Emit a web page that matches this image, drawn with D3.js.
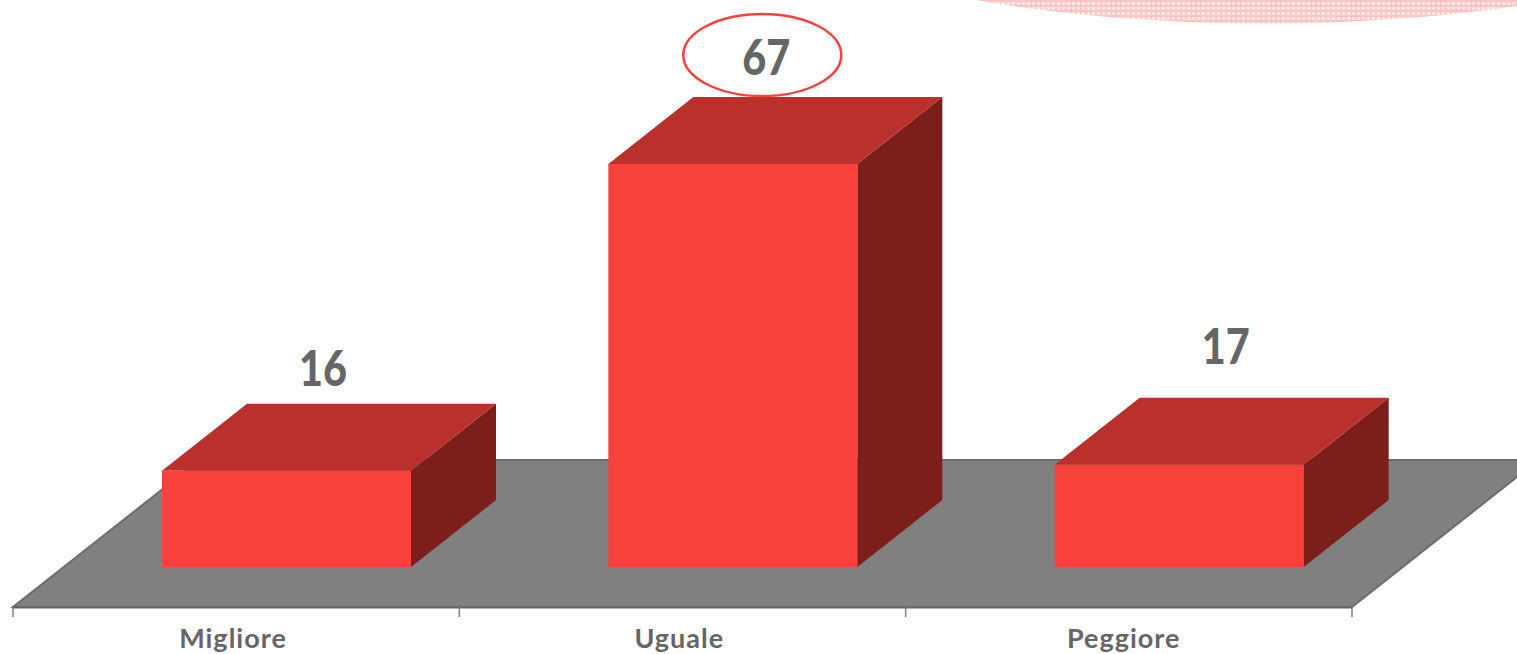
<!DOCTYPE html>
<html><head><meta charset="utf-8">
<script src="https://cdn.jsdelivr.net/npm/d3@7"></script>
<style>html,body{margin:0;padding:0;background:#fff;overflow:hidden}svg{display:block}</style>
</head><body><svg id="c" width="1517" height="654"></svg>
<script>
const categories = ["Migliore","Uguale","Peggiore"];
const values = [16,67,17];
const highlighted = ["Uguale"];

const svg = d3.select("#c");
const font = "Lato, 'Open Sans', sans-serif";
const x = d3.scaleBand().domain(categories).range([13,1352]);
const y = d3.scaleLinear().domain([0,67]).range([567,164]);
const depthX = 85, depthY = 67;
const floorFront = 607, floorBack = 460;
const floorDX = (floorFront-floorBack)*depthX/depthY;
const barOff = 149, barW = 249;
// hand-placed value label nudges relative to each bar's front-top-left corner
const labelNudge = {Migliore:[161,-85], Uguale:[158,-89], Peggiore:[171,-101]};
const catNudge = {Migliore:220, Uguale:220, Peggiore:218};

// decorative pink blob
const defs = svg.append("defs");
const pat = defs.append("pattern").attr("id","dots").attr("patternUnits","userSpaceOnUse").attr("width",5).attr("height",5);
pat.append("rect").attr("width",5).attr("height",5).attr("fill","#ffe6e6");
pat.append("rect").attr("width",2).attr("height",5).attr("fill","#ffcaca");
pat.append("rect").attr("width",5).attr("height",2).attr("fill","#ffc2c2");
pat.append("rect").attr("x",3).attr("y",3).attr("width",1).attr("height",1).attr("fill","#fff6f6");
svg.append("ellipse").attr("cx",1265).attr("cy",-116.5).attr("rx",520).attr("ry",140).attr("fill","url(#dots)");

// floor
svg.append("path").attr("fill","#808080").attr("stroke","#6c6c6c").attr("stroke-width",2)
  .attr("d",d3.line()([[13,floorFront],[1352,floorFront],[1352+floorDX,floorBack],[13+floorDX,floorBack]])+"Z");
svg.append("line").attr("x1",13).attr("x2",1352).attr("y1",floorFront+.5).attr("y2",floorFront+.5).attr("stroke","#666").attr("stroke-width",2);

// ticks
const ticks = categories.map(c=>x(c)).concat([x.range()[1]]);
svg.selectAll("line.t").data(ticks).join("line").attr("class","t")
  .attr("x1",d=>d).attr("x2",d=>d).attr("y1",floorFront).attr("y2",617)
  .attr("stroke","#7f7f7f").attr("stroke-width",1.5);

// bars
const g = svg.selectAll("g.b").data(categories.map((c,i)=>({c,v:values[i]}))).join("g").attr("class","b");
const L = d=>x(d.c)+barOff, R = d=>L(d)+barW, T = d=>y(d.v), B = y(0);
g.append("path").attr("fill","#7c1f1b").attr("d",d=>d3.line()([[R(d),T(d)],[R(d)+depthX,T(d)-depthY],[R(d)+depthX,B-depthY],[R(d),B]])+"Z");
g.append("path").attr("fill","#b9302d").attr("d",d=>d3.line()([[L(d),T(d)],[L(d)+depthX,T(d)-depthY],[R(d)+depthX,T(d)-depthY],[R(d),T(d)]])+"Z");
g.append("rect").attr("fill","#f8413b").attr("x",L).attr("y",T).attr("width",barW).attr("height",d=>B-T(d));

// highlight ellipse + values
g.filter(d=>highlighted.includes(d.c)).append("ellipse")
  .attr("cx",d=>L(d)+154).attr("cy",d=>T(d)-109).attr("rx",79).attr("ry",41)
  .attr("fill","#fff").attr("stroke","#f8413b").attr("stroke-width",2.5);
g.append("text").text(d=>d.v).attr("x",d=>L(d)+labelNudge[d.c][0]).attr("y",d=>T(d)+labelNudge[d.c][1])
  .attr("text-anchor","middle").attr("font-family",font).attr("font-weight",900).attr("font-size",50).attr("fill","#666666")
  .attr("textLength",48).attr("lengthAdjust","spacingAndGlyphs");

// category labels
svg.selectAll("text.c").data(categories).join("text").attr("class","c").text(d=>d)
  .attr("x",d=>x(d)+catNudge[d]).attr("y",648).attr("text-anchor","middle")
  .attr("font-family",font).attr("font-weight",700).attr("font-size",27).attr("letter-spacing",1).attr("fill","#666666");
</script></body></html>
